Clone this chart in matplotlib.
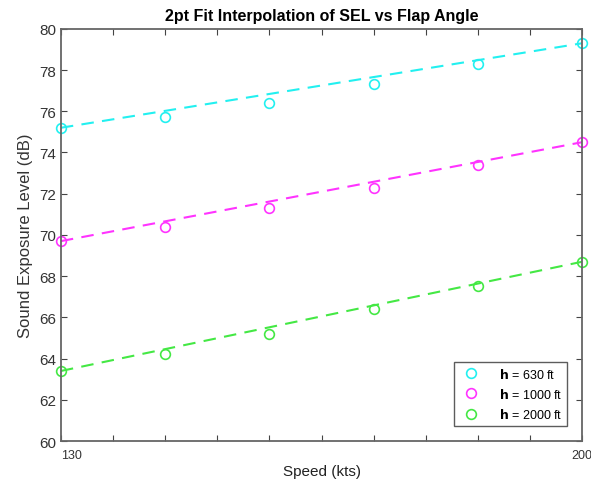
import numpy as np
import matplotlib
matplotlib.use("Agg")
import matplotlib.pyplot as plt

plt.rcParams['font.family'] = ['Liberation Sans', 'DejaVu Sans']

speed = [130, 144, 158, 172, 186, 200]
sel_630 = [75.2, 75.7, 76.4, 77.3, 78.3, 79.3]
sel_1000 = [69.7, 70.4, 71.3, 72.3, 73.4, 74.5]
sel_2000 = [63.4, 64.2, 65.2, 66.4, 67.5, 68.7]
labels = [r"$\mathbf{h}$ = 630 ft", r"$\mathbf{h}$ = 1000 ft", r"$\mathbf{h}$ = 2000 ft"]
colors = ['#22f0f0', '#ff33ff', '#44e844']

fig = plt.figure(figsize=(5.91, 4.89), dpi=100)
ax = fig.add_axes([0.103, 0.096, 0.882, 0.843])

for y, lab, c in zip([sel_630, sel_1000, sel_2000], labels, colors):
    ax.plot(speed, y, 'o', mfc='none', mec=c, ms=7, mew=1.2, label=lab, clip_on=False)
    # 2pt fit: straight line through first and last point
    ax.plot([speed[0], speed[-1]], [y[0], y[-1]], '--', color=c, lw=1.5, dashes=(6, 4))

ax.set_xlim(130, 200)
ax.set_ylim(60, 80)
ax.set_yticks(np.arange(60, 81, 2))
ax.set_xticks(np.arange(130, 201, 7))
ax.set_xticklabels(['130'] + [''] * 9 + ['200'], fontsize=9, color='#333333')
ax.get_xticklabels()[0].set_ha('left')
ax.tick_params(axis='x', pad=6)
ax.tick_params(axis='y', labelsize=11, labelcolor='#333333')
ax.tick_params(direction='in', top=True, right=True, length=4, color='#444444')
for s in ax.spines.values():
    s.set_color('#666666')
    s.set_linewidth(1.3)

ax.set_title("2pt Fit Interpolation of SEL vs Flap Angle", fontsize=11.5, fontweight='bold', pad=6)
ax.set_xlabel("Speed (kts)", fontsize=11, color='#222222', labelpad=2)
ax.set_ylabel("Sound Exposure Level (dB)", fontsize=12, color='#333333')

leg = ax.legend(loc='lower right', fontsize=9, fancybox=False, edgecolor='#333333',
                borderaxespad=1.2, handletextpad=1.2)
leg.get_frame().set_linewidth(1.0)

fig.savefig('out.png', dpi=100)
